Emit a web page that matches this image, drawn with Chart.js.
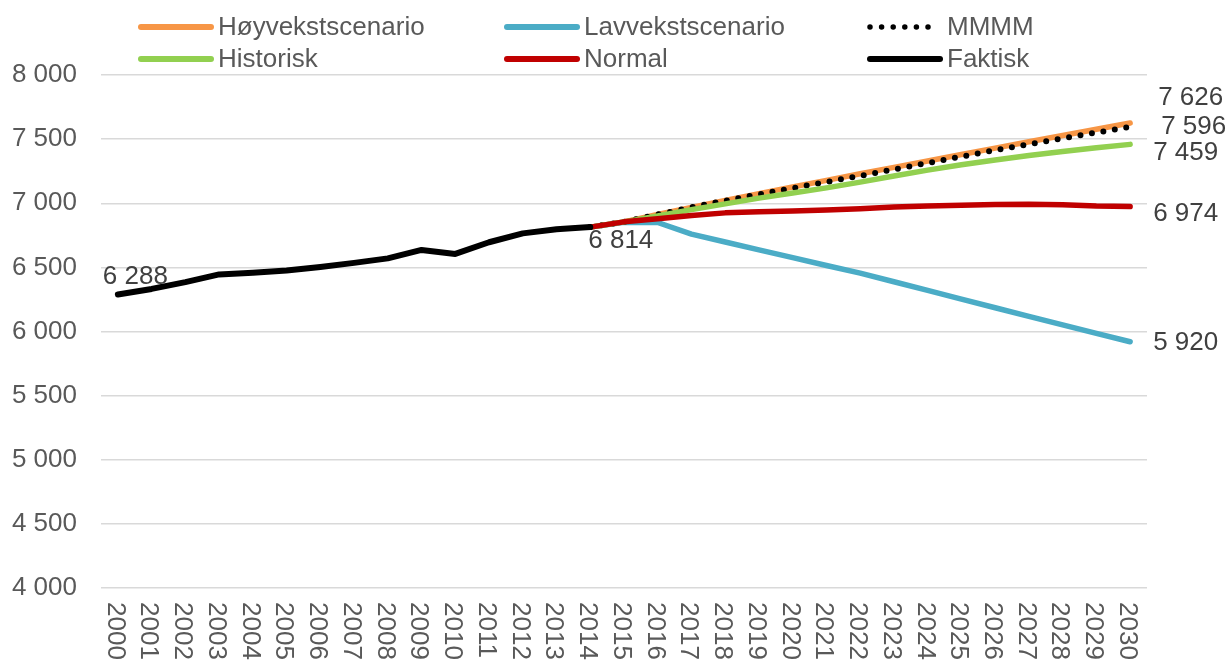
<!DOCTYPE html>
<html lang="no">
<head>
  <meta charset="UTF-8">
  <title>Befolkningsframskriving</title>
  <script src="https://cdn.jsdelivr.net/npm/chart.js"></script>
  <style>
    body { margin: 0; background: #fff; }
    #wrap { position: relative; width: 1227px; height: 662px; }
  </style>
</head>
<body>
  <div id="wrap"><canvas id="popChart"></canvas></div>

  <script>
    // Years on the x axis
    const years = ['2000', '2001', '2002', '2003', '2004', '2005', '2006', '2007', '2008', '2009',
      '2010', '2011', '2012', '2013', '2014', '2015', '2016', '2017', '2018', '2019',
      '2020', '2021', '2022', '2023', '2024', '2025', '2026', '2027', '2028', '2029', '2030'];

    // Actual figures 2000-2014
    const faktisk = [6288, 6332, 6385, 6445, 6458, 6475, 6503, 6535, 6570, 6636,
      6605, 6696, 6765, 6798, 6814];

    // Projections 2014-2030 (all start from the 2014 figure)
    const hoyvekst = [6814, 6855, 6912, 6968, 7022, 7075, 7127, 7178, 7230, 7280,
      7330, 7380, 7430, 7480, 7528, 7577, 7626];
    const lavvekst = [6814, 6852, 6850, 6759, 6698, 6637, 6576, 6515, 6455, 6388,
      6320, 6252, 6185, 6118, 6052, 5986, 5920];
    const mmmm = [6814, 6855, 6912, 6968, 7020, 7070, 7118, 7166, 7214, 7264,
      7314, 7364, 7414, 7460, 7506, 7551, 7596];
    const historisk = [6814, 6855, 6900, 6950, 6995, 7040, 7080, 7120, 7165, 7212,
      7258, 7300, 7337, 7372, 7403, 7432, 7459];
    const normal = [6814, 6855, 6880, 6905, 6925, 6933, 6940, 6948, 6957, 6970,
      6978, 6985, 6990, 6992, 6988, 6978, 6974];

    // y axis range
    const yMin = 4000;
    const yMax = 8000;
    const yStep = 500;

    const FONT = "'Liberation Sans', Arial, sans-serif";
    const pad = n => Array(n).fill(null);
    const fmt = v => String(v).replace(/\B(?=(\d{3})+(?!\d))/g, ' ');

    const datasets = [
      { label: 'Høyvekstscenario', data: [...pad(14), ...hoyvekst], borderColor: '#F79646', borderWidth: 5.5, order: 6 },
      { label: 'Lavvekstscenario', data: [...pad(14), ...lavvekst], borderColor: '#4BACC6', borderWidth: 5.5, order: 5 },
      { label: 'MMMM', data: [...pad(14), ...mmmm], borderColor: '#000000', borderWidth: 6,
        borderDash: [0, 11.6], borderCapStyle: 'round', order: 4 },
      { label: 'Historisk', data: [...pad(14), ...historisk], borderColor: '#92D050', borderWidth: 5.5, order: 3 },
      { label: 'Normal', data: [...pad(14), ...normal], borderColor: '#C00000', borderWidth: 5.5, order: 2 },
      { label: 'Faktisk', data: [...faktisk, ...pad(16)], borderColor: '#000000', borderWidth: 6, order: 1 }
    ];
    datasets.forEach(d => {
      d.pointRadius = 0;
      d.tension = 0;
      d.fill = false;
      d.borderJoinStyle = 'round';
      if (!d.borderCapStyle) d.borderCapStyle = 'round';
    });

    // value labels: dataset index, point index, offset from the point
    const valueLabels = [
      { ds: 5, i: 0, dx: -15, dy: -18 },
      { ds: 5, i: 14, dx: -2, dy: 14 },
      { ds: 0, i: 30, dx: 28, dy: -25 },
      { ds: 2, i: 30, dx: 31, dy: 0 },
      { ds: 3, i: 30, dx: 23, dy: 8 },
      { ds: 4, i: 30, dx: 23, dy: 7 },
      { ds: 1, i: 30, dx: 23, dy: 1 }
    ];

    // legend drawn as a 3 x 2 grid above the plot
    const legendCols = [141, 507, 870];
    const legendRows = [27, 59];

    const legendGrid = {
      id: 'legendGrid',
      afterDraw(chart) {
        const ctx = chart.ctx;
        ctx.save();
        chart.data.datasets.forEach((d, k) => {
          const x = legendCols[k % 3];
          const y = legendRows[Math.floor(k / 3)];
          const len = d.borderDash ? 60 : 70;
          ctx.beginPath();
          ctx.strokeStyle = d.borderColor;
          ctx.lineWidth = d.borderDash ? 5.5 : 6;
          ctx.lineCap = 'round';
          ctx.setLineDash(d.borderDash || []);
          ctx.moveTo(x, y);
          ctx.lineTo(x + len, y);
          ctx.stroke();
          ctx.setLineDash([]);
          ctx.fillStyle = '#595959';
          ctx.font = '26px ' + FONT;
          ctx.textAlign = 'left';
          ctx.textBaseline = 'middle';
          ctx.fillText(d.label, x + 77, y + 1);
        });
        ctx.restore();
      }
    };

    // year labels turned a quarter clockwise under the plot
    const yearLabels = {
      id: 'yearLabels',
      afterDraw(chart) {
        const ctx = chart.ctx;
        const xs = chart.scales.x;
        ctx.save();
        ctx.fillStyle = '#595959';
        ctx.font = '26px ' + FONT;
        ctx.textAlign = 'left';
        ctx.textBaseline = 'middle';
        years.forEach((yr, i) => {
          ctx.save();
          ctx.translate(xs.getPixelForTick(i) - 3, chart.chartArea.bottom + 14);
          ctx.rotate(Math.PI / 2);
          ctx.fillText(yr, 0, 0);
          ctx.restore();
        });
        ctx.restore();
      }
    };

    const pointValues = {
      id: 'pointValues',
      afterDraw(chart) {
        const ctx = chart.ctx;
        ctx.save();
        ctx.fillStyle = '#404040';
        ctx.font = '26px ' + FONT;
        ctx.textAlign = 'left';
        ctx.textBaseline = 'middle';
        valueLabels.forEach(l => {
          const pt = chart.getDatasetMeta(l.ds).data[l.i];
          const v = chart.data.datasets[l.ds].data[l.i];
          ctx.fillText(fmt(v), pt.x + l.dx, pt.y + l.dy);
        });
        ctx.restore();
      }
    };

    const ctx = document.getElementById('popChart').getContext('2d');
    new Chart(ctx, {
      type: 'line',
      data: { labels: years, datasets: datasets },
      options: {
        responsive: true,
        maintainAspectRatio: false,
        animation: false,
        layout: { padding: { top: 75, right: 80, left: 0, bottom: 0 } },
        plugins: {
          legend: { display: false },
          tooltip: { enabled: false }
        },
        scales: {
          x: {
            offset: true,
            grid: { display: false },
            border: { display: false },
            ticks: { display: false },
            afterFit(s) { s.height = 74; }
          },
          y: {
            min: yMin,
            max: yMax,
            grid: { color: '#d9d9d9', lineWidth: 1.5, drawTicks: false },
            border: { display: false },
            ticks: {
              stepSize: yStep,
              padding: 24,
              color: '#595959',
              font: { family: FONT, size: 26 },
              callback: v => fmt(v)
            },
            afterFit(s) { s.width = 101; }
          }
        }
      },
      plugins: [legendGrid, yearLabels, pointValues]
    });
  </script>
</body>
</html>
